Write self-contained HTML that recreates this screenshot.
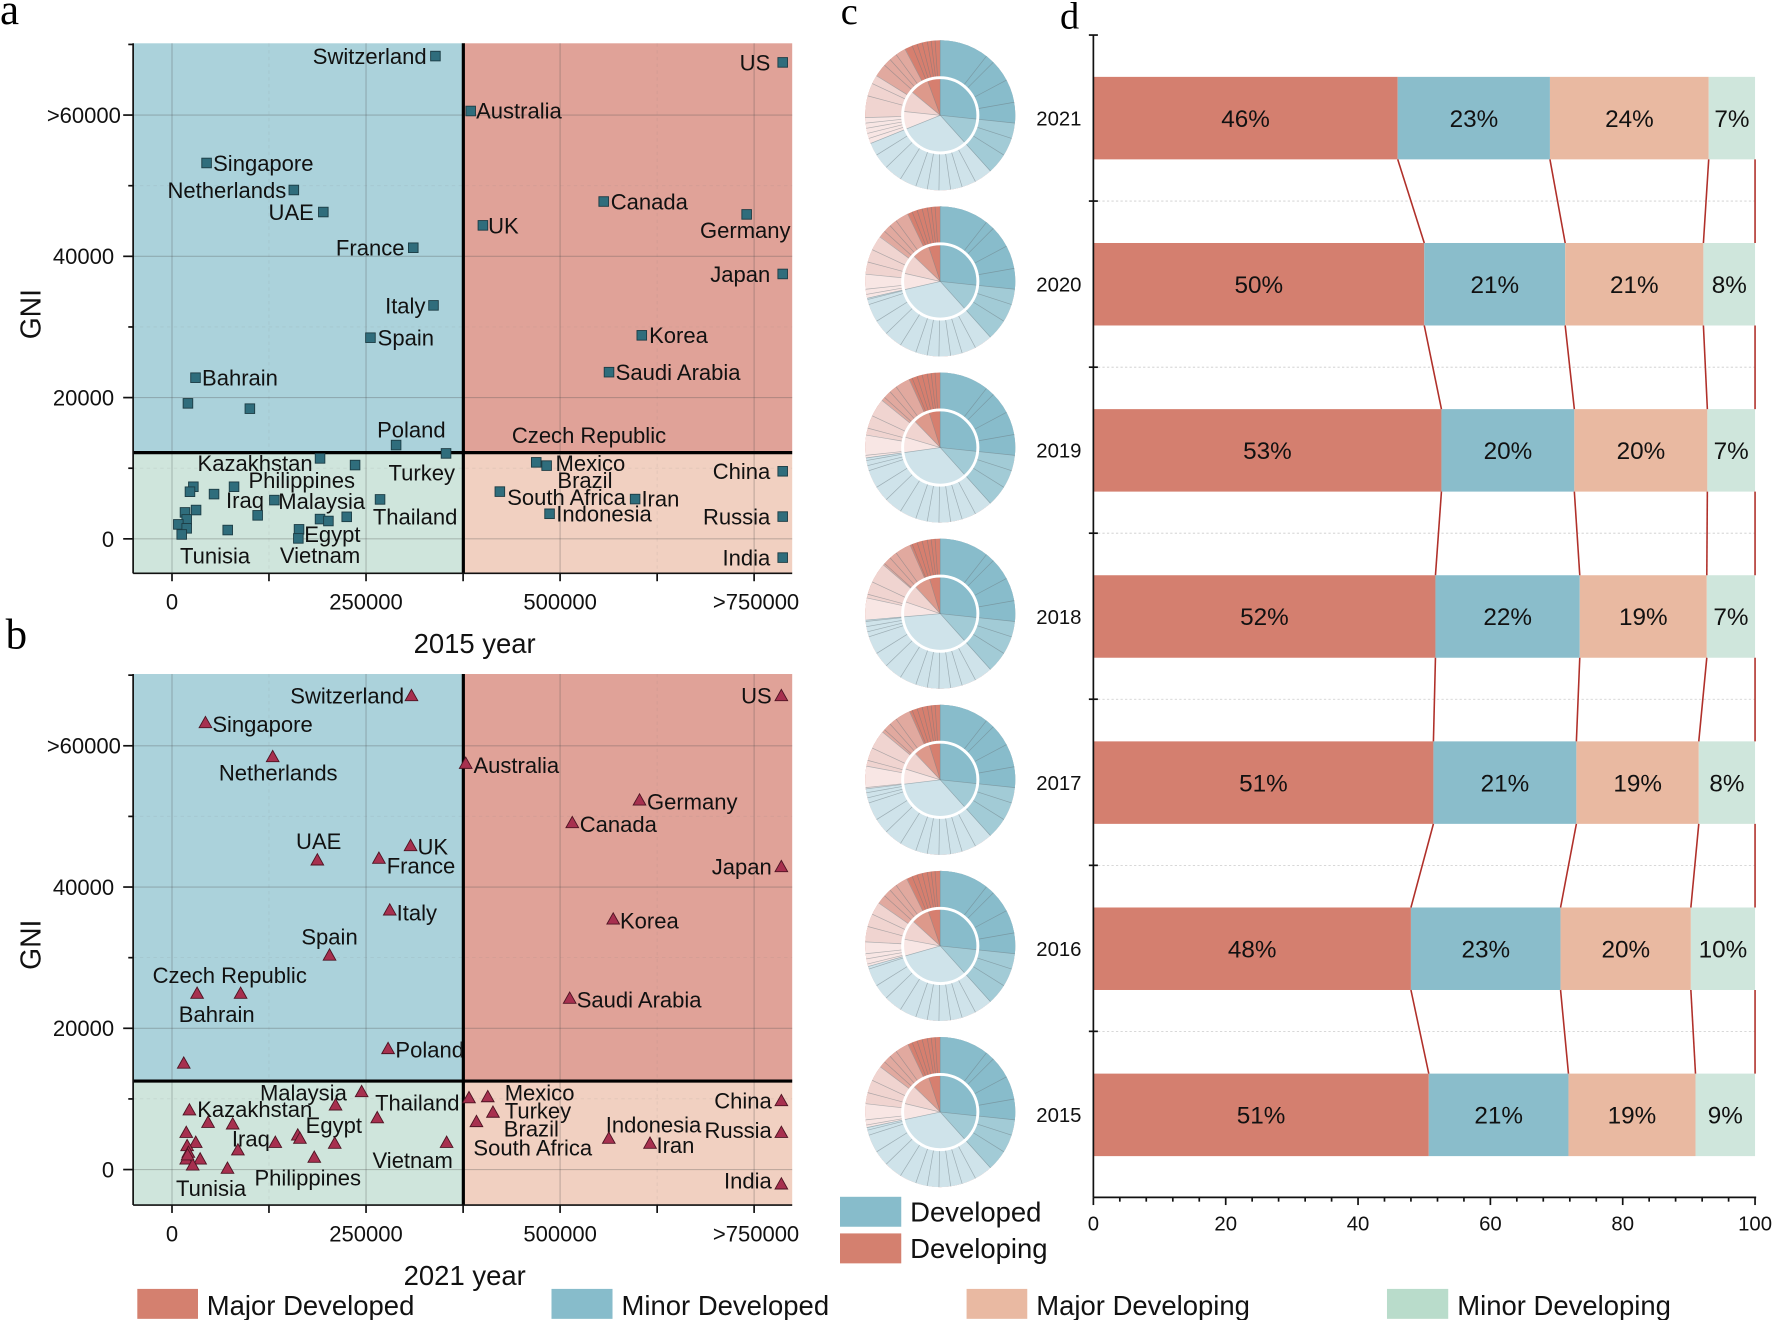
<!DOCTYPE html>
<html><head><meta charset="utf-8">
<style>
html,body{margin:0;padding:0;background:#fff;}
svg{display:block}
text{font-family:"Liberation Sans",Arial,sans-serif;fill:#111}
.l{font-size:19.5px}
.t{font-size:19.5px}
.s{font-family:"Liberation Serif","Times New Roman",serif;fill:#000}
.p{font-size:21.5px;text-anchor:middle}
.yr{font-size:18px;text-anchor:end}
.xt{font-size:18px;text-anchor:middle}
.lg{font-size:24.3px}
.g{stroke:rgba(80,80,80,0.3);stroke-width:1}
.gm{stroke:rgba(120,120,120,0.13);stroke-width:0.8;stroke-dasharray:3 3}
.ax{stroke:#111;stroke-width:1.5}
.dv{stroke:#000;stroke-width:2.8}
.cn{stroke:#b0302a;stroke-width:1.4}
.dl{stroke:rgba(105,120,125,0.5);stroke-width:0.6}
</style></head><body>
<svg xmlns="http://www.w3.org/2000/svg" width="1772" height="1320" viewBox="0 0 1568 1168">
<defs>
<rect id="sq" x="-4.25" y="-4.25" width="8.5" height="8.5" fill="#2f6d7c" stroke="#1c3c44" stroke-width="0.8"/>
<polygon id="tri" points="0,-5.6 -5.6,4.4 5.6,4.4" fill="#a7304f" stroke="#4d1322" stroke-width="0.8"/>
<g id="sub" class="dl">
<line y1="-33.3" y2="-66.4" transform="rotate(38)"/><line y1="-33.3" y2="-66.4" transform="rotate(45)"/>
<line y1="-33.3" y2="-66.4" transform="rotate(62)"/><line y1="-33.3" y2="-66.4" transform="rotate(80)"/>
<line y1="-33.3" y2="-66.4" transform="rotate(108)"/><line y1="-33.3" y2="-66.4" transform="rotate(122)"/>
<line y1="-33.3" y2="-66.4" transform="rotate(152)"/><line y1="-33.3" y2="-66.4" transform="rotate(163)"/>
<line y1="-33.3" y2="-66.4" transform="rotate(172)"/><line y1="-33.3" y2="-66.4" transform="rotate(181)"/>
<line y1="-33.3" y2="-66.4" transform="rotate(190)"/><line y1="-33.3" y2="-66.4" transform="rotate(199)"/>
<line y1="-33.3" y2="-66.4" transform="rotate(212)"/><line y1="-33.3" y2="-66.4" transform="rotate(226)"/>
<line y1="-33.3" y2="-66.4" transform="rotate(238)"/><line y1="-33.3" y2="-66.4" transform="rotate(252)"/>
<line y1="-33.3" y2="-66.4" transform="rotate(256)"/><line y1="-33.3" y2="-66.4" transform="rotate(260)"/>
<line y1="-33.3" y2="-66.4" transform="rotate(264)"/><line y1="-33.3" y2="-66.4" transform="rotate(285)"/>
<line y1="-33.3" y2="-66.4" transform="rotate(295)"/><line y1="-33.3" y2="-66.4" transform="rotate(312)"/>
<line y1="-33.3" y2="-66.4" transform="rotate(318)"/><line y1="-33.3" y2="-66.4" transform="rotate(324)"/>
<line y1="-33.3" y2="-66.4" transform="rotate(338)"/><line y1="-33.3" y2="-66.4" transform="rotate(342)"/>
<line y1="-33.3" y2="-66.4" transform="rotate(346)"/><line y1="-33.3" y2="-66.4" transform="rotate(350)"/>
<line y1="-33.3" y2="-66.4" transform="rotate(353)"/><line y1="-33.3" y2="-66.4" transform="rotate(356)"/>
</g>
<clipPath id="clipL"><rect x="117.8" y="590" width="290.8" height="480"/></clipPath>
</defs>

<!-- panel labels -->
<text class="s" x="0" y="21" font-size="38">a</text>
<text class="s" x="5" y="574" font-size="38">b</text>
<text class="s" x="744" y="21" font-size="34">c</text>
<text class="s" x="938" y="25" font-size="34">d</text>

<!-- ================= PANEL A ================= -->
<rect x="117.8" y="38.3" width="292.2" height="362.2" fill="#abd2db"/>
<rect x="410" y="38.3" width="291" height="362.2" fill="#e0a298"/>
<rect x="117.8" y="400.5" width="292.2" height="106.8" fill="#cfe5dc"/>
<rect x="410" y="400.5" width="291" height="106.8" fill="#f1d0c1"/>
<g class="gm">
<line x1="117.8" x2="701" y1="164.3" y2="164.3"/><line x1="117.8" x2="701" y1="289.3" y2="289.3"/><line x1="117.8" x2="701" y1="414.3" y2="414.3"/>
<line x1="238" x2="238" y1="38.3" y2="507.3"/><line x1="581.5" x2="581.5" y1="38.3" y2="507.3"/>
</g>
<g class="g">
<line x1="117.8" x2="701" y1="101.8" y2="101.8"/><line x1="117.8" x2="701" y1="226.8" y2="226.8"/>
<line x1="117.8" x2="701" y1="351.8" y2="351.8"/><line x1="117.8" x2="701" y1="476.8" y2="476.8"/>
<line x1="152.2" x2="152.2" y1="38.3" y2="507.3"/><line x1="323.9" x2="323.9" y1="38.3" y2="507.3"/>
<line x1="495.6" x2="495.6" y1="38.3" y2="507.3"/><line x1="667.3" x2="667.3" y1="38.3" y2="507.3"/>
</g>
<line class="dv" x1="117.8" x2="701" y1="400.5" y2="400.5"/>
<line class="dv" x1="410" x2="410" y1="38.3" y2="507.3"/>
<line class="ax" x1="117.8" x2="117.8" y1="38.3" y2="507.3"/>
<line class="ax" x1="117.8" x2="701" y1="507.3" y2="507.3"/>
<g class="ax" stroke-width="1.3">
<line x1="109" x2="117.8" y1="101.8" y2="101.8"/><line x1="109" x2="117.8" y1="226.8" y2="226.8"/>
<line x1="109" x2="117.8" y1="351.8" y2="351.8"/><line x1="109" x2="117.8" y1="476.8" y2="476.8"/>
<line x1="113.5" x2="117.8" y1="39.3" y2="39.3"/><line x1="113.5" x2="117.8" y1="164.3" y2="164.3"/>
<line x1="113.5" x2="117.8" y1="289.3" y2="289.3"/><line x1="113.5" x2="117.8" y1="414.3" y2="414.3"/>
<line x1="152.2" x2="152.2" y1="507.3" y2="514.3"/><line x1="238" x2="238" y1="507.3" y2="514.3"/>
<line x1="323.9" x2="323.9" y1="507.3" y2="514.3"/><line x1="409.8" x2="409.8" y1="507.3" y2="514.3"/>
<line x1="495.6" x2="495.6" y1="507.3" y2="514.3"/><line x1="581.5" x2="581.5" y1="507.3" y2="514.3"/>
<line x1="667.3" x2="667.3" y1="507.3" y2="514.3"/>
</g>
<g class="t">
<text x="107" y="108.8" text-anchor="end">&gt;60000</text>
<text x="101" y="233.8" text-anchor="end">40000</text>
<text x="101" y="358.8" text-anchor="end">20000</text>
<text x="101" y="483.8" text-anchor="end">0</text>
<text x="152.2" y="539.4" text-anchor="middle">0</text>
<text x="323.9" y="539.4" text-anchor="middle">250000</text>
<text x="495.6" y="539.4" text-anchor="middle">500000</text>
<text x="669" y="539.4" text-anchor="middle">&gt;750000</text>
</g>
<text x="36" y="278" font-size="25" text-anchor="middle" transform="rotate(-90 36 278)">GNI</text>
<text class="lg" x="420" y="578" text-anchor="middle">2015 year</text>

<g class="l">
<text x="377.5" y="56.6" text-anchor="end">Switzerland</text>
<text x="421.3" y="105">Australia</text>
<text x="188.6" y="151.2">Singapore</text>
<text x="253.3" y="175.1" text-anchor="end">Netherlands</text>
<text x="277.7" y="194.6" text-anchor="end">UAE</text>
<text x="357.9" y="226.2" text-anchor="end">France</text>
<text x="376.5" y="277.2" text-anchor="end">Italy</text>
<text x="334.2" y="305.8">Spain</text>
<text x="178.8" y="341.2">Bahrain</text>
<text x="364" y="386.9" text-anchor="middle">Poland</text>
<text x="431.9" y="206.4">UK</text>
<text x="681.6" y="62.2" text-anchor="end">US</text>
<text x="540.4" y="185.3">Canada</text>
<text x="659.5" y="210.6" text-anchor="middle">Germany</text>
<text x="681.6" y="249.4" text-anchor="end">Japan</text>
<text x="574.4" y="303.7">Korea</text>
<text x="544.8" y="336.3">Saudi Arabia</text>
<text x="521.2" y="392.1" text-anchor="middle">Czech Republic</text>
<text x="225.7" y="416.8" text-anchor="middle">Kazakhstan</text>
<text x="373.2" y="425" text-anchor="middle">Turkey</text>
<text x="267" y="431.8" text-anchor="middle">Philippines</text>
<text x="216.8" y="449.5" text-anchor="middle">Iraq</text>
<text x="284.7" y="450.4" text-anchor="middle">Malaysia</text>
<text x="367.3" y="464.2" text-anchor="middle">Thailand</text>
<text x="294.1" y="479.8" text-anchor="middle">Egypt</text>
<text x="283.2" y="498.2" text-anchor="middle">Vietnam</text>
<text x="190.3" y="498.8" text-anchor="middle">Tunisia</text>
<text x="491.6" y="416.7">Mexico</text>
<text x="517.6" y="431.6" text-anchor="middle">Brazil</text>
<text x="448.8" y="446.7">South Africa</text>
<text x="567.6" y="448">Iran</text>
<text x="492.2" y="461.6">Indonesia</text>
<text x="681.6" y="424" text-anchor="end">China</text>
<text x="681.6" y="464.1" text-anchor="end">Russia</text>
<text x="681.6" y="500.4" text-anchor="end">India</text>
</g>

<g>
<use href="#sq" x="385.3" y="49.6"/><use href="#sq" x="416.5" y="98.2"/><use href="#sq" x="182.8" y="144.2"/>
<use href="#sq" x="260" y="168.1"/><use href="#sq" x="286.1" y="187.6"/><use href="#sq" x="365.7" y="219.2"/>
<use href="#sq" x="383.6" y="270.2"/><use href="#sq" x="327.8" y="298.8"/><use href="#sq" x="173" y="334.2"/>
<use href="#sq" x="166.3" y="356.9"/><use href="#sq" x="221.1" y="361.6"/><use href="#sq" x="350.5" y="393.8"/>
<use href="#sq" x="427.3" y="199.4"/><use href="#sq" x="692.6" y="55.2"/><use href="#sq" x="534.2" y="178.3"/>
<use href="#sq" x="660.7" y="189.7"/><use href="#sq" x="692.6" y="242.4"/><use href="#sq" x="567.9" y="296.7"/>
<use href="#sq" x="538.9" y="329.3"/><use href="#sq" x="283.2" y="405.6"/><use href="#sq" x="314.2" y="411.5"/>
<use href="#sq" x="394.7" y="401.2"/><use href="#sq" x="171.1" y="430.7"/><use href="#sq" x="168.1" y="435.1"/>
<use href="#sq" x="189.4" y="437.2"/><use href="#sq" x="207.1" y="430.7"/><use href="#sq" x="242.8" y="442.5"/>
<use href="#sq" x="228" y="456"/><use href="#sq" x="336.3" y="441.9"/><use href="#sq" x="283.2" y="459.3"/>
<use href="#sq" x="290.6" y="461"/><use href="#sq" x="306.8" y="457.3"/><use href="#sq" x="264.6" y="468.4"/>
<use href="#sq" x="264" y="476.4"/><use href="#sq" x="201.5" y="469"/><use href="#sq" x="163.7" y="453.4"/>
<use href="#sq" x="173.5" y="451.3"/><use href="#sq" x="165.2" y="459.6"/><use href="#sq" x="157.8" y="464"/>
<use href="#sq" x="165.2" y="467.5"/><use href="#sq" x="160.8" y="472.9"/><use href="#sq" x="474.5" y="409.1"/>
<use href="#sq" x="483.7" y="412"/><use href="#sq" x="442.3" y="435"/><use href="#sq" x="562" y="441.6"/>
<use href="#sq" x="486.3" y="454.6"/><use href="#sq" x="692.6" y="417"/><use href="#sq" x="692.6" y="457.1"/>
<use href="#sq" x="692.6" y="493.4"/>
</g>

<!-- ================= PANEL B ================= -->
<rect x="117.8" y="596.4" width="292.2" height="360.2" fill="#abd2db"/>
<rect x="410" y="596.4" width="291" height="360.2" fill="#e0a298"/>
<rect x="117.8" y="956.6" width="292.2" height="109.7" fill="#cfe5dc"/>
<rect x="410" y="956.6" width="291" height="109.7" fill="#f1d0c1"/>
<g class="gm">
<line x1="117.8" x2="701" y1="722.3" y2="722.3"/><line x1="117.8" x2="701" y1="847.3" y2="847.3"/><line x1="117.8" x2="701" y1="972.3" y2="972.3"/>
<line x1="238" x2="238" y1="596.4" y2="1066.3"/><line x1="581.5" x2="581.5" y1="596.4" y2="1066.3"/>
</g>
<g class="g">
<line x1="117.8" x2="701" y1="659.9" y2="659.9"/><line x1="117.8" x2="701" y1="784.9" y2="784.9"/>
<line x1="117.8" x2="701" y1="909.9" y2="909.9"/><line x1="117.8" x2="701" y1="1034.9" y2="1034.9"/>
<line x1="152.2" x2="152.2" y1="596.4" y2="1066.3"/><line x1="323.9" x2="323.9" y1="596.4" y2="1066.3"/>
<line x1="495.6" x2="495.6" y1="596.4" y2="1066.3"/><line x1="667.3" x2="667.3" y1="596.4" y2="1066.3"/>
</g>
<line class="dv" x1="117.8" x2="701" y1="956.6" y2="956.6"/>
<line class="dv" x1="410" x2="410" y1="596.4" y2="1066.3"/>
<line class="ax" x1="117.8" x2="117.8" y1="596.4" y2="1066.3"/>
<line class="ax" x1="117.8" x2="701" y1="1066.3" y2="1066.3"/>
<g class="ax" stroke-width="1.3">
<line x1="109" x2="117.8" y1="659.9" y2="659.9"/><line x1="109" x2="117.8" y1="784.9" y2="784.9"/>
<line x1="109" x2="117.8" y1="909.9" y2="909.9"/><line x1="109" x2="117.8" y1="1034.9" y2="1034.9"/>
<line x1="113.5" x2="117.8" y1="597.4" y2="597.4"/><line x1="113.5" x2="117.8" y1="722.4" y2="722.4"/>
<line x1="113.5" x2="117.8" y1="847.4" y2="847.4"/><line x1="113.5" x2="117.8" y1="972.4" y2="972.4"/>
<line x1="152.2" x2="152.2" y1="1066.3" y2="1073.3"/><line x1="238" x2="238" y1="1066.3" y2="1073.3"/>
<line x1="323.9" x2="323.9" y1="1066.3" y2="1073.3"/><line x1="409.8" x2="409.8" y1="1066.3" y2="1073.3"/>
<line x1="495.6" x2="495.6" y1="1066.3" y2="1073.3"/><line x1="581.5" x2="581.5" y1="1066.3" y2="1073.3"/>
<line x1="667.3" x2="667.3" y1="1066.3" y2="1073.3"/>
</g>
<g class="t">
<text x="107" y="666.9" text-anchor="end">&gt;60000</text>
<text x="101" y="791.9" text-anchor="end">40000</text>
<text x="101" y="916.9" text-anchor="end">20000</text>
<text x="101" y="1041.9" text-anchor="end">0</text>
<text x="152.2" y="1098.4" text-anchor="middle">0</text>
<text x="323.9" y="1098.4" text-anchor="middle">250000</text>
<text x="495.6" y="1098.4" text-anchor="middle">500000</text>
<text x="669" y="1098.4" text-anchor="middle">&gt;750000</text>
</g>
<text x="36" y="836" font-size="25" text-anchor="middle" transform="rotate(-90 36 836)">GNI</text>
<text class="lg" x="411.2" y="1137" text-anchor="middle">2021 year</text>

<g class="l">
<text x="357.6" y="622.6" text-anchor="end">Switzerland</text>
<text x="187.9" y="647.7">Singapore</text>
<text x="246.2" y="690.7" text-anchor="middle">Netherlands</text>
<text x="419" y="684">Australia</text>
<text x="572.5" y="716.3">Germany</text>
<text x="513" y="736.4">Canada</text>
<text x="682.9" y="622.6" text-anchor="end">US</text>
<text x="682.9" y="773.9" text-anchor="end">Japan</text>
<text x="282" y="751.1" text-anchor="middle">UAE</text>
<text x="369.4" y="756.2">UK</text>
<text x="342.2" y="773">France</text>
<text x="351" y="814.4">Italy</text>
<text x="548.6" y="821.8">Korea</text>
<text x="291.6" y="835.8" text-anchor="middle">Spain</text>
<text x="203.3" y="869.7" text-anchor="middle">Czech Republic</text>
<text x="191.8" y="904.3" text-anchor="middle">Bahrain</text>
<text x="510.3" y="891.3">Saudi Arabia</text>
<text x="349.9" y="935.6" clip-path="url(#clipL)">Poland</text>
<text x="306.9" y="973.6" text-anchor="end">Malaysia</text>
<text x="331.9" y="982.5">Thailand</text>
<text x="174.5" y="988.6">Kazakhstan</text>
<text x="295.4" y="1002.6" text-anchor="middle">Egypt</text>
<text x="222" y="1014.3" text-anchor="middle">Iraq</text>
<text x="365.2" y="1033.4" text-anchor="middle">Vietnam</text>
<text x="272.3" y="1048.8" text-anchor="middle">Philippines</text>
<text x="186.8" y="1058.5" text-anchor="middle">Tunisia</text>
<text x="446.6" y="973.6">Mexico</text>
<text x="446.6" y="989.8">Turkey</text>
<text x="445.8" y="1005.6">Brazil</text>
<text x="418.9" y="1022.4">South Africa</text>
<text x="536" y="1002">Indonesia</text>
<text x="580.9" y="1020.2">Iran</text>
<text x="682.9" y="981" text-anchor="end">China</text>
<text x="682.9" y="1007" text-anchor="end">Russia</text>
<text x="682.9" y="1051.8" text-anchor="end">India</text>
</g>

<g>
<use href="#tri" x="364.1" y="615.6"/><use href="#tri" x="181.8" y="639.5"/><use href="#tri" x="241.3" y="669.6"/>
<use href="#tri" x="412.1" y="675.5"/><use href="#tri" x="565.9" y="708"/><use href="#tri" x="506.4" y="728"/>
<use href="#tri" x="691.4" y="615.6"/><use href="#tri" x="691.4" y="766.9"/><use href="#tri" x="280.8" y="761"/>
<use href="#tri" x="363.3" y="748.3"/><use href="#tri" x="335.3" y="759.5"/><use href="#tri" x="344.9" y="805.3"/>
<use href="#tri" x="542.6" y="813.3"/><use href="#tri" x="291.6" y="845.2"/><use href="#tri" x="174.4" y="879"/>
<use href="#tri" x="212.9" y="879"/><use href="#tri" x="504.1" y="883.4"/><use href="#tri" x="343.4" y="927.9"/>
<use href="#tri" x="162.6" y="940.8"/>
<use href="#tri" x="320" y="966"/><use href="#tri" x="296.9" y="977.8"/><use href="#tri" x="333.8" y="989.1"/>
<use href="#tri" x="167.6" y="982.2"/><use href="#tri" x="184.1" y="993.2"/><use href="#tri" x="205.9" y="994.6"/>
<use href="#tri" x="243.6" y="1010.9"/><use href="#tri" x="263.5" y="1004.4"/><use href="#tri" x="265.4" y="1007.3"/>
<use href="#tri" x="296.2" y="1011.7"/><use href="#tri" x="395.2" y="1010.9"/><use href="#tri" x="278.1" y="1024.1"/>
<use href="#tri" x="210.5" y="1017.6"/><use href="#tri" x="201.3" y="1033.8"/><use href="#tri" x="164.8" y="1002.1"/>
<use href="#tri" x="173.2" y="1010.9"/><use href="#tri" x="165.6" y="1013.8"/><use href="#tri" x="166.7" y="1019.7"/>
<use href="#tri" x="177.1" y="1025.6"/><use href="#tri" x="164.8" y="1025.6"/><use href="#tri" x="170.5" y="1030.9"/>
<use href="#tri" x="166" y="1022"/>
<use href="#tri" x="415" y="971.4"/><use href="#tri" x="431.6" y="970.5"/><use href="#tri" x="436.2" y="984.2"/>
<use href="#tri" x="421.6" y="992.5"/><use href="#tri" x="538.7" y="1007.3"/><use href="#tri" x="575.2" y="1011.7"/>
<use href="#tri" x="691.4" y="974"/><use href="#tri" x="691.4" y="1002.1"/><use href="#tri" x="691.4" y="1047.7"/>
</g>

<!-- ================= PANEL C (donuts) ================= -->
<!-- 2021 -->
<g transform="translate(832,102)">
<g transform="rotate(-90)" fill="none">
<circle r="49.85" stroke="#d67f6f" stroke-width="33.1"/>
<circle r="49.85" stroke="#e1a99f" stroke-width="33.1" stroke-dasharray="288.86 400"/>
<circle r="49.85" stroke="#f0d4d0" stroke-width="33.1" stroke-dasharray="262.55 400"/>
<circle r="49.85" stroke="#f8e6e4" stroke-width="33.1" stroke-dasharray="233.31 400"/>
<circle r="49.85" stroke="#cfe3ea" stroke-width="33.1" stroke-dasharray="215.77 400"/>
<circle r="49.85" stroke="#a2cbd6" stroke-width="33.1" stroke-dasharray="120.07 400"/>
<circle r="49.85" stroke="#88bccb" stroke-width="33.1" stroke-dasharray="83.52 400"/>
<circle r="16.65" stroke="#d67f6f" stroke-width="33.3"/>
<circle r="16.65" stroke="#dd998b" stroke-width="33.3" stroke-dasharray="98.75 200"/>
<circle r="16.65" stroke="#f0d4d0" stroke-width="33.3" stroke-dasharray="89.97 200"/>
<circle r="16.65" stroke="#f8e6e4" stroke-width="33.3" stroke-dasharray="80.21 200"/>
<circle r="16.65" stroke="#cfe3ea" stroke-width="33.3" stroke-dasharray="72.07 200"/>
<circle r="16.65" stroke="#a2cbd6" stroke-width="33.3" stroke-dasharray="40.10 200"/>
<circle r="16.65" stroke="#88bccb" stroke-width="33.3" stroke-dasharray="27.90 200"/>
</g>
<use href="#sub"/>
<g class="dl"><line y2="-66.4"/><line y2="-66.4" transform="rotate(96)"/><line y2="-66.4" transform="rotate(138)"/><line y2="-66.4" transform="rotate(248)"/>
<line y1="-33.3" y2="-66.4" transform="rotate(268.2)"/><line y1="-33.3" y2="-66.4" transform="rotate(301.8)"/><line y1="-33.3" y2="-66.4" transform="rotate(332)"/>
<line y2="-33.3" transform="rotate(276)"/><line y2="-33.3" transform="rotate(309.6)"/><line y2="-33.3" transform="rotate(339.8)"/></g>
<circle r="33.3" fill="none" stroke="#fff" stroke-width="2.6"/>
</g>
<!-- 2020 -->
<g transform="translate(832,249)">
<g transform="rotate(-90)" fill="none">
<circle r="49.85" stroke="#d67f6f" stroke-width="33.1"/>
<circle r="49.85" stroke="#e1a99f" stroke-width="33.1" stroke-dasharray="290.82 400"/>
<circle r="49.85" stroke="#f0d4d0" stroke-width="33.1" stroke-dasharray="266.62 400"/>
<circle r="49.85" stroke="#f8e6e4" stroke-width="33.1" stroke-dasharray="239.73 400"/>
<circle r="49.85" stroke="#cfe3ea" stroke-width="33.1" stroke-dasharray="223.60 400"/>
<circle r="49.85" stroke="#a2cbd6" stroke-width="33.1" stroke-dasharray="120.07 400"/>
<circle r="49.85" stroke="#88bccb" stroke-width="33.1" stroke-dasharray="83.52 400"/>
<circle r="16.65" stroke="#d67f6f" stroke-width="33.3"/>
<circle r="16.65" stroke="#dd998b" stroke-width="33.3" stroke-dasharray="99.24 200"/>
<circle r="16.65" stroke="#f0d4d0" stroke-width="33.3" stroke-dasharray="91.15 200"/>
<circle r="16.65" stroke="#f8e6e4" stroke-width="33.3" stroke-dasharray="82.17 200"/>
<circle r="16.65" stroke="#cfe3ea" stroke-width="33.3" stroke-dasharray="74.69 200"/>
<circle r="16.65" stroke="#a2cbd6" stroke-width="33.3" stroke-dasharray="40.10 200"/>
<circle r="16.65" stroke="#88bccb" stroke-width="33.3" stroke-dasharray="27.90 200"/>
</g>
<use href="#sub"/>
<g class="dl"><line y2="-66.4"/><line y2="-66.4" transform="rotate(96)"/><line y2="-66.4" transform="rotate(138)"/><line y2="-66.4" transform="rotate(257)"/>
<line y1="-33.3" y2="-66.4" transform="rotate(275.5)"/><line y1="-33.3" y2="-66.4" transform="rotate(306.4)"/><line y1="-33.3" y2="-66.4" transform="rotate(334.3)"/>
<line y2="-33.3" transform="rotate(282.75)"/><line y2="-33.3" transform="rotate(313.65)"/><line y2="-33.3" transform="rotate(341.5)"/></g>
<circle r="33.3" fill="none" stroke="#fff" stroke-width="2.6"/>
</g>
<!-- 2019 -->
<g transform="translate(832,396)">
<g transform="rotate(-90)" fill="none">
<circle r="49.85" stroke="#d67f6f" stroke-width="33.1"/>
<circle r="49.85" stroke="#e1a99f" stroke-width="33.1" stroke-dasharray="291.90 400"/>
<circle r="49.85" stroke="#f0d4d0" stroke-width="33.1" stroke-dasharray="268.88 400"/>
<circle r="49.85" stroke="#f8e6e4" stroke-width="33.1" stroke-dasharray="243.30 400"/>
<circle r="49.85" stroke="#cfe3ea" stroke-width="33.1" stroke-dasharray="227.95 400"/>
<circle r="49.85" stroke="#a2cbd6" stroke-width="33.1" stroke-dasharray="120.07 400"/>
<circle r="49.85" stroke="#88bccb" stroke-width="33.1" stroke-dasharray="83.52 400"/>
<circle r="16.65" stroke="#d67f6f" stroke-width="33.3"/>
<circle r="16.65" stroke="#dd998b" stroke-width="33.3" stroke-dasharray="99.50 200"/>
<circle r="16.65" stroke="#f0d4d0" stroke-width="33.3" stroke-dasharray="91.80 200"/>
<circle r="16.65" stroke="#f8e6e4" stroke-width="33.3" stroke-dasharray="83.26 200"/>
<circle r="16.65" stroke="#cfe3ea" stroke-width="33.3" stroke-dasharray="76.14 200"/>
<circle r="16.65" stroke="#a2cbd6" stroke-width="33.3" stroke-dasharray="40.10 200"/>
<circle r="16.65" stroke="#88bccb" stroke-width="33.3" stroke-dasharray="27.90 200"/>
</g>
<use href="#sub"/>
<g class="dl"><line y2="-66.4"/><line y2="-66.4" transform="rotate(96)"/><line y2="-66.4" transform="rotate(138)"/><line y2="-66.4" transform="rotate(262)"/>
<line y1="-33.3" y2="-66.4" transform="rotate(279.6)"/><line y1="-33.3" y2="-66.4" transform="rotate(309)"/><line y1="-33.3" y2="-66.4" transform="rotate(335.5)"/>
<line y2="-33.3" transform="rotate(286.5)"/><line y2="-33.3" transform="rotate(315.9)"/><line y2="-33.3" transform="rotate(342.4)"/></g>
<circle r="33.3" fill="none" stroke="#fff" stroke-width="2.6"/>
</g>
<!-- 2018 -->
<g transform="translate(832,543)">
<g transform="rotate(-90)" fill="none">
<circle r="49.85" stroke="#d67f6f" stroke-width="33.1"/>
<circle r="49.85" stroke="#e1a99f" stroke-width="33.1" stroke-dasharray="292.56 400"/>
<circle r="49.85" stroke="#f0d4d0" stroke-width="33.1" stroke-dasharray="270.24 400"/>
<circle r="49.85" stroke="#f8e6e4" stroke-width="33.1" stroke-dasharray="245.44 400"/>
<circle r="49.85" stroke="#cfe3ea" stroke-width="33.1" stroke-dasharray="230.56 400"/>
<circle r="49.85" stroke="#a2cbd6" stroke-width="33.1" stroke-dasharray="120.07 400"/>
<circle r="49.85" stroke="#88bccb" stroke-width="33.1" stroke-dasharray="83.52 400"/>
<circle r="16.65" stroke="#d67f6f" stroke-width="33.3"/>
<circle r="16.65" stroke="#dd998b" stroke-width="33.3" stroke-dasharray="99.65 200"/>
<circle r="16.65" stroke="#f0d4d0" stroke-width="33.3" stroke-dasharray="92.20 200"/>
<circle r="16.65" stroke="#f8e6e4" stroke-width="33.3" stroke-dasharray="83.91 200"/>
<circle r="16.65" stroke="#cfe3ea" stroke-width="33.3" stroke-dasharray="77.01 200"/>
<circle r="16.65" stroke="#a2cbd6" stroke-width="33.3" stroke-dasharray="40.10 200"/>
<circle r="16.65" stroke="#88bccb" stroke-width="33.3" stroke-dasharray="27.90 200"/>
</g>
<use href="#sub"/>
<g class="dl"><line y2="-66.4"/><line y2="-66.4" transform="rotate(96)"/><line y2="-66.4" transform="rotate(138)"/><line y2="-66.4" transform="rotate(265)"/>
<line y1="-33.3" y2="-66.4" transform="rotate(282.1)"/><line y1="-33.3" y2="-66.4" transform="rotate(310.6)"/><line y1="-33.3" y2="-66.4" transform="rotate(336.3)"/>
<line y2="-33.3" transform="rotate(288.75)"/><line y2="-33.3" transform="rotate(317.25)"/><line y2="-33.3" transform="rotate(342.9)"/></g>
<circle r="33.3" fill="none" stroke="#fff" stroke-width="2.6"/>
</g>
<!-- 2017 -->
<g transform="translate(832,690)">
<g transform="rotate(-90)" fill="none">
<circle r="49.85" stroke="#d67f6f" stroke-width="33.1"/>
<circle r="49.85" stroke="#e1a99f" stroke-width="33.1" stroke-dasharray="292.12 400"/>
<circle r="49.85" stroke="#f0d4d0" stroke-width="33.1" stroke-dasharray="269.33 400"/>
<circle r="49.85" stroke="#f8e6e4" stroke-width="33.1" stroke-dasharray="244.01 400"/>
<circle r="49.85" stroke="#cfe3ea" stroke-width="33.1" stroke-dasharray="228.82 400"/>
<circle r="49.85" stroke="#a2cbd6" stroke-width="33.1" stroke-dasharray="120.07 400"/>
<circle r="49.85" stroke="#88bccb" stroke-width="33.1" stroke-dasharray="83.52 400"/>
<circle r="16.65" stroke="#d67f6f" stroke-width="33.3"/>
<circle r="16.65" stroke="#dd998b" stroke-width="33.3" stroke-dasharray="99.53 200"/>
<circle r="16.65" stroke="#f0d4d0" stroke-width="33.3" stroke-dasharray="91.94 200"/>
<circle r="16.65" stroke="#f8e6e4" stroke-width="33.3" stroke-dasharray="83.48 200"/>
<circle r="16.65" stroke="#cfe3ea" stroke-width="33.3" stroke-dasharray="76.43 200"/>
<circle r="16.65" stroke="#a2cbd6" stroke-width="33.3" stroke-dasharray="40.10 200"/>
<circle r="16.65" stroke="#88bccb" stroke-width="33.3" stroke-dasharray="27.90 200"/>
</g>
<use href="#sub"/>
<g class="dl"><line y2="-66.4"/><line y2="-66.4" transform="rotate(96)"/><line y2="-66.4" transform="rotate(138)"/><line y2="-66.4" transform="rotate(263)"/>
<line y1="-33.3" y2="-66.4" transform="rotate(280.5)"/><line y1="-33.3" y2="-66.4" transform="rotate(309.6)"/><line y1="-33.3" y2="-66.4" transform="rotate(335.8)"/>
<line y2="-33.3" transform="rotate(287.25)"/><line y2="-33.3" transform="rotate(316.35)"/><line y2="-33.3" transform="rotate(342.5)"/></g>
<circle r="33.3" fill="none" stroke="#fff" stroke-width="2.6"/>
</g>
<!-- 2016 -->
<g transform="translate(832,837)">
<g transform="rotate(-90)" fill="none">
<circle r="49.85" stroke="#d67f6f" stroke-width="33.1"/>
<circle r="49.85" stroke="#e1a99f" stroke-width="33.1" stroke-dasharray="290.16 400"/>
<circle r="49.85" stroke="#f0d4d0" stroke-width="33.1" stroke-dasharray="265.26 400"/>
<circle r="49.85" stroke="#f8e6e4" stroke-width="33.1" stroke-dasharray="237.59 400"/>
<circle r="49.85" stroke="#cfe3ea" stroke-width="33.1" stroke-dasharray="220.99 400"/>
<circle r="49.85" stroke="#a2cbd6" stroke-width="33.1" stroke-dasharray="120.07 400"/>
<circle r="49.85" stroke="#88bccb" stroke-width="33.1" stroke-dasharray="83.52 400"/>
<circle r="16.65" stroke="#d67f6f" stroke-width="33.3"/>
<circle r="16.65" stroke="#dd998b" stroke-width="33.3" stroke-dasharray="99.07 200"/>
<circle r="16.65" stroke="#f0d4d0" stroke-width="33.3" stroke-dasharray="90.76 200"/>
<circle r="16.65" stroke="#f8e6e4" stroke-width="33.3" stroke-dasharray="81.52 200"/>
<circle r="16.65" stroke="#cfe3ea" stroke-width="33.3" stroke-dasharray="73.81 200"/>
<circle r="16.65" stroke="#a2cbd6" stroke-width="33.3" stroke-dasharray="40.10 200"/>
<circle r="16.65" stroke="#88bccb" stroke-width="33.3" stroke-dasharray="27.90 200"/>
</g>
<use href="#sub"/>
<g class="dl"><line y2="-66.4"/><line y2="-66.4" transform="rotate(96)"/><line y2="-66.4" transform="rotate(138)"/><line y2="-66.4" transform="rotate(254)"/>
<line y1="-33.3" y2="-66.4" transform="rotate(273.1)"/><line y1="-33.3" y2="-66.4" transform="rotate(304.9)"/><line y1="-33.3" y2="-66.4" transform="rotate(333.5)"/>
<line y2="-33.3" transform="rotate(280.5)"/><line y2="-33.3" transform="rotate(312.3)"/><line y2="-33.3" transform="rotate(340.9)"/></g>
<circle r="33.3" fill="none" stroke="#fff" stroke-width="2.6"/>
</g>
<!-- 2015 -->
<g transform="translate(832,984)">
<g transform="rotate(-90)" fill="none">
<circle r="49.85" stroke="#d67f6f" stroke-width="33.1"/>
<circle r="49.85" stroke="#e1a99f" stroke-width="33.1" stroke-dasharray="291.03 400"/>
<circle r="49.85" stroke="#f0d4d0" stroke-width="33.1" stroke-dasharray="267.07 400"/>
<circle r="49.85" stroke="#f8e6e4" stroke-width="33.1" stroke-dasharray="240.45 400"/>
<circle r="49.85" stroke="#cfe3ea" stroke-width="33.1" stroke-dasharray="224.47 400"/>
<circle r="49.85" stroke="#a2cbd6" stroke-width="33.1" stroke-dasharray="120.07 400"/>
<circle r="49.85" stroke="#88bccb" stroke-width="33.1" stroke-dasharray="83.52 400"/>
<circle r="16.65" stroke="#d67f6f" stroke-width="33.3"/>
<circle r="16.65" stroke="#dd998b" stroke-width="33.3" stroke-dasharray="99.27 200"/>
<circle r="16.65" stroke="#f0d4d0" stroke-width="33.3" stroke-dasharray="91.28 200"/>
<circle r="16.65" stroke="#f8e6e4" stroke-width="33.3" stroke-dasharray="82.39 200"/>
<circle r="16.65" stroke="#cfe3ea" stroke-width="33.3" stroke-dasharray="74.98 200"/>
<circle r="16.65" stroke="#a2cbd6" stroke-width="33.3" stroke-dasharray="40.10 200"/>
<circle r="16.65" stroke="#88bccb" stroke-width="33.3" stroke-dasharray="27.90 200"/>
</g>
<use href="#sub"/>
<g class="dl"><line y2="-66.4"/><line y2="-66.4" transform="rotate(96)"/><line y2="-66.4" transform="rotate(138)"/><line y2="-66.4" transform="rotate(258)"/>
<line y1="-33.3" y2="-66.4" transform="rotate(276.4)"/><line y1="-33.3" y2="-66.4" transform="rotate(307)"/><line y1="-33.3" y2="-66.4" transform="rotate(334.5)"/>
<line y2="-33.3" transform="rotate(283.5)"/><line y2="-33.3" transform="rotate(314.1)"/><line y2="-33.3" transform="rotate(341.6)"/></g>
<circle r="33.3" fill="none" stroke="#fff" stroke-width="2.6"/>
</g>

<!-- legend c -->
<rect x="743.3" y="1059" width="54.2" height="26.5" fill="#87bccb"/>
<rect x="743.3" y="1091.4" width="54.2" height="26.5" fill="#d4806f"/>
<text class="lg" x="805.4" y="1080.8" font-size="24">Developed</text>
<text class="lg" x="805.4" y="1113.2" font-size="24">Developing</text>

<!-- ================= PANEL D ================= -->
<g stroke="#ccc" stroke-width="0.7" stroke-dasharray="2 2">
<line x1="967.5" x2="1553" y1="177.9" y2="177.9"/><line x1="967.5" x2="1553" y1="324.9" y2="324.9"/>
<line x1="967.5" x2="1553" y1="471.8" y2="471.8"/><line x1="967.5" x2="1553" y1="618.7" y2="618.7"/>
<line x1="967.5" x2="1553" y1="765.7" y2="765.7"/><line x1="967.5" x2="1553" y1="912.6" y2="912.6"/>
</g>
<!-- bars -->
<g>
<rect x="967.5" y="68" width="269.3" height="73" fill="#d47f6f"/><rect x="1236.8" y="68" width="134.7" height="73" fill="#8abdcb"/><rect x="1371.5" y="68" width="140.5" height="73" fill="#e9b9a1"/><rect x="1512" y="68" width="41" height="73" fill="#cfe6dc"/>
<rect x="967.5" y="215" width="292.8" height="73" fill="#d47f6f"/><rect x="1260.3" y="215" width="124.7" height="73" fill="#8abdcb"/><rect x="1385" y="215" width="122.3" height="73" fill="#e9b9a1"/><rect x="1507.3" y="215" width="45.7" height="73" fill="#cfe6dc"/>
<rect x="967.5" y="362" width="308" height="73" fill="#d47f6f"/><rect x="1275.5" y="362" width="117.6" height="73" fill="#8abdcb"/><rect x="1393.1" y="362" width="117.7" height="73" fill="#e9b9a1"/><rect x="1510.8" y="362" width="42.2" height="73" fill="#cfe6dc"/>
<rect x="967.5" y="509" width="302.7" height="73" fill="#d47f6f"/><rect x="1270.2" y="509" width="127.7" height="73" fill="#8abdcb"/><rect x="1397.9" y="509" width="112.4" height="73" fill="#e9b9a1"/><rect x="1510.3" y="509" width="42.7" height="73" fill="#cfe6dc"/>
<rect x="967.5" y="656" width="300.9" height="73" fill="#d47f6f"/><rect x="1268.4" y="656" width="126.5" height="73" fill="#8abdcb"/><rect x="1394.9" y="656" width="108.3" height="73" fill="#e9b9a1"/><rect x="1503.2" y="656" width="49.8" height="73" fill="#cfe6dc"/>
<rect x="967.5" y="803" width="281" height="73" fill="#d47f6f"/><rect x="1248.5" y="803" width="132.4" height="73" fill="#8abdcb"/><rect x="1380.9" y="803" width="115.3" height="73" fill="#e9b9a1"/><rect x="1496.2" y="803" width="56.8" height="73" fill="#cfe6dc"/>
<rect x="967.5" y="950" width="296.8" height="73" fill="#d47f6f"/><rect x="1264.3" y="950" width="123.6" height="73" fill="#8abdcb"/><rect x="1387.9" y="950" width="112.4" height="73" fill="#e9b9a1"/><rect x="1500.3" y="950" width="52.7" height="73" fill="#cfe6dc"/>
</g>
<!-- connectors -->
<g class="cn">
<line x1="1236.8" y1="141" x2="1260.3" y2="215"/><line x1="1371.5" y1="141" x2="1385" y2="215"/><line x1="1512" y1="141" x2="1507.3" y2="215"/><line x1="1553" y1="141" x2="1553" y2="215"/>
<line x1="1260.3" y1="288" x2="1275.5" y2="362"/><line x1="1385" y1="288" x2="1393.1" y2="362"/><line x1="1507.3" y1="288" x2="1510.8" y2="362"/><line x1="1553" y1="288" x2="1553" y2="362"/>
<line x1="1275.5" y1="435" x2="1270.2" y2="509"/><line x1="1393.1" y1="435" x2="1397.9" y2="509"/><line x1="1510.8" y1="435" x2="1510.3" y2="509"/><line x1="1553" y1="435" x2="1553" y2="509"/>
<line x1="1270.2" y1="582" x2="1268.4" y2="656"/><line x1="1397.9" y1="582" x2="1394.9" y2="656"/><line x1="1510.3" y1="582" x2="1503.2" y2="656"/><line x1="1553" y1="582" x2="1553" y2="656"/>
<line x1="1268.4" y1="729" x2="1248.5" y2="803"/><line x1="1394.9" y1="729" x2="1380.9" y2="803"/><line x1="1503.2" y1="729" x2="1496.2" y2="803"/><line x1="1553" y1="729" x2="1553" y2="803"/>
<line x1="1248.5" y1="876" x2="1264.3" y2="950"/><line x1="1380.9" y1="876" x2="1387.9" y2="950"/><line x1="1496.2" y1="876" x2="1500.3" y2="950"/><line x1="1553" y1="876" x2="1553" y2="950"/>
</g>
<!-- percent labels -->
<g class="p">
<text x="1102.2" y="112.2">46%</text><text x="1304.2" y="112.2">23%</text><text x="1441.8" y="112.2">24%</text><text x="1532.5" y="112.2">7%</text>
<text x="1113.9" y="259.2">50%</text><text x="1322.7" y="259.2">21%</text><text x="1446.2" y="259.2">21%</text><text x="1530.2" y="259.2">8%</text>
<text x="1121.5" y="406.2">53%</text><text x="1334.3" y="406.2">20%</text><text x="1452" y="406.2">20%</text><text x="1531.9" y="406.2">7%</text>
<text x="1118.9" y="553.2">52%</text><text x="1334.1" y="553.2">22%</text><text x="1454.1" y="553.2">19%</text><text x="1531.7" y="553.2">7%</text>
<text x="1118" y="700.2">51%</text><text x="1331.7" y="700.2">21%</text><text x="1449.1" y="700.2">19%</text><text x="1528.1" y="700.2">8%</text>
<text x="1108" y="847.2">48%</text><text x="1314.7" y="847.2">23%</text><text x="1438.6" y="847.2">20%</text><text x="1524.6" y="847.2">10%</text>
<text x="1115.9" y="994.2">51%</text><text x="1326.1" y="994.2">21%</text><text x="1444.1" y="994.2">19%</text><text x="1526.7" y="994.2">9%</text>
</g>
<!-- axes d -->
<line class="ax" x1="967.5" x2="967.5" y1="31" y2="1059.5" stroke-width="1.4"/>
<line class="ax" x1="967.5" x2="1554" y1="1059.5" y2="1059.5" stroke-width="1.4"/>
<g class="ax" stroke-width="1.3">
<line x1="963.5" x2="971.5" y1="31" y2="31"/><line x1="963.5" x2="971.5" y1="177.9" y2="177.9"/>
<line x1="963.5" x2="971.5" y1="324.9" y2="324.9"/><line x1="963.5" x2="971.5" y1="471.8" y2="471.8"/>
<line x1="963.5" x2="971.5" y1="618.7" y2="618.7"/><line x1="963.5" x2="971.5" y1="765.7" y2="765.7"/>
<line x1="963.5" x2="971.5" y1="912.6" y2="912.6"/>
<line x1="967.5" x2="967.5" y1="1059.5" y2="1066.3"/><line x1="1084.6" x2="1084.6" y1="1059.5" y2="1066.3"/>
<line x1="1201.7" x2="1201.7" y1="1059.5" y2="1066.3"/><line x1="1318.8" x2="1318.8" y1="1059.5" y2="1066.3"/>
<line x1="1435.9" x2="1435.9" y1="1059.5" y2="1066.3"/><line x1="1553" x2="1553" y1="1059.5" y2="1066.3"/>
</g>
<g class="ax" stroke-width="1.1">
<line x1="990.9" x2="990.9" y1="1059.5" y2="1063.3"/><line x1="1014.3" x2="1014.3" y1="1059.5" y2="1063.3"/><line x1="1037.8" x2="1037.8" y1="1059.5" y2="1063.3"/><line x1="1061.2" x2="1061.2" y1="1059.5" y2="1063.3"/>
<line x1="1108" x2="1108" y1="1059.5" y2="1063.3"/><line x1="1131.4" x2="1131.4" y1="1059.5" y2="1063.3"/><line x1="1154.9" x2="1154.9" y1="1059.5" y2="1063.3"/><line x1="1178.3" x2="1178.3" y1="1059.5" y2="1063.3"/>
<line x1="1225.1" x2="1225.1" y1="1059.5" y2="1063.3"/><line x1="1248.5" x2="1248.5" y1="1059.5" y2="1063.3"/><line x1="1272" x2="1272" y1="1059.5" y2="1063.3"/><line x1="1295.4" x2="1295.4" y1="1059.5" y2="1063.3"/>
<line x1="1342.2" x2="1342.2" y1="1059.5" y2="1063.3"/><line x1="1365.6" x2="1365.6" y1="1059.5" y2="1063.3"/><line x1="1389.1" x2="1389.1" y1="1059.5" y2="1063.3"/><line x1="1412.5" x2="1412.5" y1="1059.5" y2="1063.3"/>
<line x1="1459.3" x2="1459.3" y1="1059.5" y2="1063.3"/><line x1="1482.7" x2="1482.7" y1="1059.5" y2="1063.3"/><line x1="1506.2" x2="1506.2" y1="1059.5" y2="1063.3"/><line x1="1529.6" x2="1529.6" y1="1059.5" y2="1063.3"/>
</g>
<g class="xt">
<text x="967.5" y="1089">0</text><text x="1084.6" y="1089">20</text><text x="1201.7" y="1089">40</text>
<text x="1318.8" y="1089">60</text><text x="1435.9" y="1089">80</text><text x="1553" y="1089">100</text>
</g>
<g class="yr">
<text x="957" y="111">2021</text><text x="957" y="258">2020</text><text x="957" y="405">2019</text>
<text x="957" y="552">2018</text><text x="957" y="699">2017</text><text x="957" y="846">2016</text>
<text x="957" y="993">2015</text>
</g>

<!-- bottom legend -->
<rect x="121.5" y="1140.5" width="53.7" height="26.5" fill="#d4806f"/>
<text class="lg" x="183" y="1163.5">Major Developed</text>
<rect x="488" y="1140.5" width="54" height="26.5" fill="#87bccb"/>
<text class="lg" x="550" y="1163.5">Minor Developed</text>
<rect x="855.3" y="1140.5" width="53.7" height="26.5" fill="#e9b9a2"/>
<text class="lg" x="917" y="1163.5">Major Developing</text>
<rect x="1227.3" y="1140.5" width="54.2" height="26.5" fill="#b9dccb"/>
<text class="lg" x="1289.5" y="1163.5">Minor Developing</text>
</svg>
</body></html>
